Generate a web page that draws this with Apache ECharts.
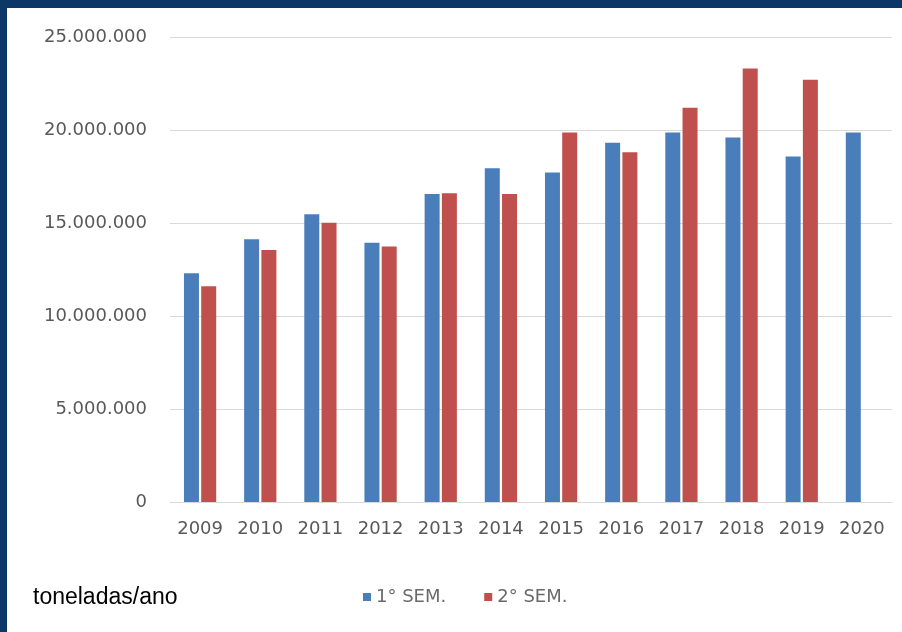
<!DOCTYPE html>
<html>
<head>
<meta charset="utf-8">
<script src="https://cdn.jsdelivr.net/npm/echarts@6/dist/echarts.min.js"></script>
<style>
  html, body { margin: 0; padding: 0; width: 902px; height: 632px; background: #0b3866; overflow: hidden; }
  #chart { position: absolute; left: 7px; top: 8px; width: 895px; height: 624px; background: #ffffff; }
</style>
</head>
<body>
<div id="chart"></div>
<script>
const categories = ['2009','2010','2011','2012','2013','2014','2015','2016','2017','2018','2019','2020'];
const sem1 = [12300000, 14120000, 15470000, 13940000, 16560000, 17940000, 17720000, 19320000, 19870000, 19600000, 18570000, 19870000];
const sem2 = [11600000, 13550000, 15020000, 13730000, 16600000, 16560000, 19860000, 18800000, 21200000, 23300000, 22700000, null];
const seriesNames = ['1° SEM.', '2° SEM.'];
const unitLabel = 'toneladas/ano';

function fmt(v) {
  return String(v).replace(/\B(?=(\d{3})+(?!\d))/g, '.');
}

const chart = echarts.init(document.getElementById('chart'), null, { renderer: 'canvas' });
chart.setOption({
  backgroundColor: '#ffffff',
  animation: false,
  textStyle: { fontFamily: 'DejaVu Sans' },
  grid: { left: 163, right: 10, top: 29, bottom: 130, containLabel: false },
  xAxis: {
    type: 'category',
    data: categories,
    axisLine: { show: true, lineStyle: { color: '#d9d9d9', width: 1 } },
    axisTick: { show: false },
    axisLabel: { color: '#595959', fontSize: 18, margin: 18, fontFamily: 'DejaVu Sans' }
  },
  yAxis: {
    type: 'value',
    min: 0,
    max: 25000000,
    interval: 5000000,
    axisLine: { show: false },
    axisTick: { show: false },
    splitLine: { show: true, lineStyle: { color: '#d9d9d9', width: 1 } },
    axisLabel: { color: '#595959', fontSize: 18, margin: 23, formatter: fmt, fontFamily: 'DejaVu Sans' }
  },
  legend: {
    data: seriesNames,
    left: 351,
    top: 575,
    itemWidth: 8,
    itemHeight: 8,
    itemGap: 38,
    icon: 'rect',
    textStyle: { color: '#6a6a6a', fontSize: 18, fontFamily: 'DejaVu Sans' }
  },
  graphic: [{
    type: 'text',
    left: 26,
    top: 578,
    style: { text: unitLabel, fill: '#000000', font: '23px "Liberation Sans"' }
  }],
  series: [
    {
      name: seriesNames[0],
      type: 'bar',
      data: sem1,
      barWidth: 15,
      barGap: '15%',
      itemStyle: { color: '#4a7ebb' }
    },
    {
      name: seriesNames[1],
      type: 'bar',
      data: sem2,
      barWidth: 15,
      barGap: '15%',
      itemStyle: { color: '#c0504d' }
    }
  ]
});
</script>
</body>
</html>
